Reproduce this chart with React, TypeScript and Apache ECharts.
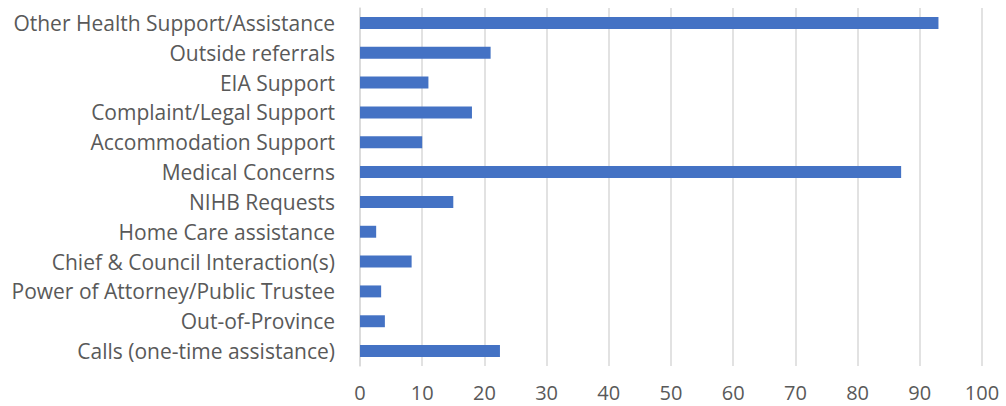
import React, { useEffect, useRef } from "react";
import * as echarts from "echarts";

const categories = [
  "Calls (one-time assistance)",
  "Out-of-Province",
  "Power of Attorney/Public Trustee",
  "Chief & Council Interaction(s)",
  "Home Care assistance",
  "NIHB Requests",
  "Medical Concerns",
  "Accommodation Support",
  "Complaint/Legal Support",
  "EIA Support",
  "Outside referrals",
  "Other Health Support/Assistance",
];

const values = [22.5, 4, 3.4, 8.3, 2.6, 15, 87, 10, 18, 11, 21, 93];

const xMin = 0;
const xMax = 100;
const xInterval = 10;

export default function App() {
  const ref = useRef<HTMLDivElement>(null);
  useEffect(() => {
    if (!ref.current) return;
    const chart = echarts.init(ref.current, null, { renderer: "svg" });
    const font = "'Open Sans', Lato, sans-serif";
    chart.setOption({
      animation: false,
      grid: { left: 360, right: 24, top: 8, bottom: 40, containLabel: false },
      xAxis: {
        type: "value",
        min: xMin,
        max: xMax,
        interval: xInterval,
        axisLine: { show: false },
        axisTick: { show: false },
        splitLine: { show: true, lineStyle: { color: "#d9d9d9", width: 1.5 } },
        axisLabel: {
          color: "#595959",
          fontSize: 20,
          lineHeight: 20,
          fontFamily: font,
          margin: 16,
        },
      },
      yAxis: {
        type: "category",
        data: categories,
        axisLine: { show: true, lineStyle: { color: "#d9d9d9", width: 1.5 } },
        axisTick: { show: false },
        axisLabel: { color: "#595959", fontSize: 21, fontFamily: font, margin: 25 },
      },
      series: [
        {
          type: "bar",
          data: values,
          barCategoryGap: "60%",
          itemStyle: { color: "#4472C4" },
        },
      ],
    });
    return () => chart.dispose();
  }, []);
  return (
    <div
      ref={ref}
      style={{ position: "absolute", left: 0, top: 0, width: 1006, height: 406 }}
    />
  );
}
